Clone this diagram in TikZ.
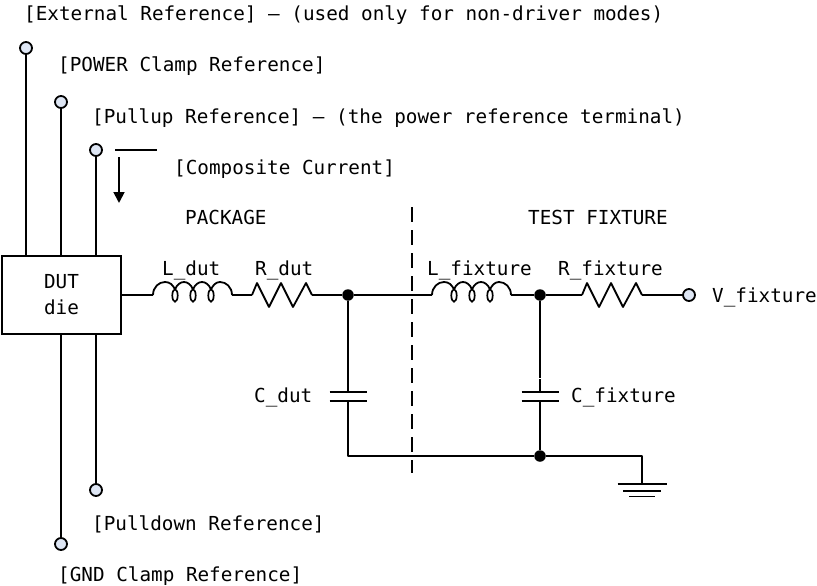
\documentclass[tikz,border=0pt]{standalone}
\usepackage{fontspec}
\setmonofont{DejaVu Sans Mono}
\usetikzlibrary{arrows.meta}
\definecolor{termfill}{HTML}{DEE6F4}
\tikzset{
  x=1pt,y=-1pt,
  wire/.style={line width=1.8pt,line join=round},
  lbl/.style={anchor=base west,inner sep=0pt,font=\fontsize{19.3}{26}\ttfamily},
  term/.style={circle,draw,line width=1.8pt,fill=termfill,minimum size=12pt,inner sep=0pt},
  dotj/.style={circle,fill=black,minimum size=11.5pt,inner sep=0pt},
  coilsym/.pic={
    \coordinate (-a) at (0,0);
    \coordinate (-b) at (79,0);
    \draw[wire] (0,0) .. controls (0,-8) and (6,-13) .. (12,-13) .. controls (17,-13) and (20,-10) .. (22,-5.5);
    \draw[wire] (22,-5.5) .. controls (26,-15.5) and (36,-15.5) .. (40,-5.5);
    \draw[wire] (40,-5.5) .. controls (44,-15.5) and (54,-15.5) .. (58,-5.5);
    \draw[wire] (58,-5.5) .. controls (60,-10) and (63,-13) .. (67,-13) .. controls (73,-13) and (79,-8) .. (79,0);
    \foreach \cx in {22,40,58} {\draw[line width=1.7pt] (\cx,0.5) ellipse [x radius=2.7pt,y radius=6.2pt];}
  },
  ressym/.pic={
    \coordinate (-a) at (0,0);
    \coordinate (-b) at (60,0);
    \draw[wire] (0,0) -- (5,-12) -- (17,12) -- (29,-12) -- (41,12) -- (54,-12) -- (60,0);
  },
  capsym/.pic={
    \coordinate (-a) at (0,-4.5);
    \coordinate (-b) at (0,4.5);
    \draw[wire] (-18.5,-4.5) -- (18.5,-4.5);
    \draw[wire] (-18.5,4.5) -- (18.5,4.5);
  },
  gndsym/.pic={
    \coordinate (-a) at (0,0);
    \draw[wire] (-24.5,0) -- (24.5,0);
    \draw[wire] (-19,7) -- (19,7);
    \draw[wire] (-13,12.5) -- (13,12.5);
  }
}
\begin{document}
\begin{tikzpicture}
\useasboundingbox (0,0) rectangle (817,586);
% die
\node[draw,line width=1.8pt,minimum width=119pt,minimum height=78pt,inner sep=0pt,font=\fontsize{19.3}{26}\ttfamily,align=center] (die) at (61.5,295) {DUT\\die};
% terminals
\node[term] (t1) at (26,48) {};
\node[term] (t2) at (61,102) {};
\node[term] (t3) at (96,150) {};
\node[term] (t4) at (96,490) {};
\node[term] (t5) at (61,544) {};
\node[term] (t6) at (689,295) {};
\draw[wire] (t1) -- (t1 |- die.north);
\draw[wire] (t2) -- (t2 |- die.north);
\draw[wire] (t3) -- (t3 |- die.north);
\draw[wire] (t4) -- (t4 |- die.south);
\draw[wire] (t5) -- (t5 |- die.south);
% current marker
\coordinate (ia) at (115,150);
\coordinate (ib) at (157,150);
\coordinate (ic) at (119,157);
\coordinate (id) at (119,203);
\draw[wire] (ia) -- (ib);
\draw[wire,-{Triangle[length=11pt,width=11pt]}] (ic) -- (id);
% components
\pic (Ld) at (153,295) {coilsym};
\pic (Rd) at (252,295) {ressym};
\pic (Lf) at (432,295) {coilsym};
\pic (Rf) at (582,295) {ressym};
\pic (Cd) at (348,396.5) {capsym};
\pic (Cf) at (540,396.5) {capsym};
\pic (Gn) at (642,484) {gndsym};
\node[dotj] (j1) at (348,295) {};
\node[dotj] (j2) at (540,295) {};
\node[dotj] (j3) at (540,456) {};
\coordinate (bl) at (348,456);
\coordinate (br) at (642,456);
\coordinate (ga) at (540,377.6);
\coordinate (gb) at (540,379.2);
\draw[wire] (die.east |- Ld-a) -- (Ld-a);
\draw[wire] (Ld-b) -- (Rd-a);
\draw[wire] (Rd-b) -- (j1);
\draw[wire] (j1) -- (Lf-a);
\draw[wire] (Lf-b) -- (j2);
\draw[wire] (j2) -- (Rf-a);
\draw[wire] (Rf-b) -- (t6);
\draw[wire] (j1) -- (Cd-a);
\draw[wire] (j2) -- (ga);
\draw[wire] (gb) -- (Cf-a);
\draw[wire] (Cd-b) -- (bl) -- (j3);
\draw[wire] (Cf-b) -- (j3);
\draw[wire] (j3) -- (br) -- (Gn-a);
% divider
\coordinate (da) at (412,207);
\coordinate (db) at (412,473);
\draw[line width=1.8pt,dash pattern=on 14.5pt off 8.5pt] (da) -- (db);
% labels
\node[lbl] (l1) at (24,20.5) {[External Reference] – (used only for non-driver modes)};
\node[lbl] (l2) at (58,72) {[POWER Clamp Reference]};
\node[lbl] (l3) at (92,123) {[Pullup Reference] – (the power reference terminal)};
\node[lbl] (l4) at (174,174) {[Composite Current]};
\node[lbl] (l5) at (185,224.5) {PACKAGE};
\node[lbl] (l6) at (528,224.5) {TEST FIXTURE};
\node[lbl] (l7) at (162,275) {L\_dut};
\node[lbl] (l8) at (255,275) {R\_dut};
\node[lbl] (l9) at (427,275) {L\_fixture};
\node[lbl] (l10) at (558,275) {R\_fixture};
\node[lbl] (l11) at (712,302) {V\_fixture};
\node[lbl] (l12) at (254,402.5) {C\_dut};
\node[lbl] (l13) at (571,402.5) {C\_fixture};
\node[lbl] (l14) at (92,530.5) {[Pulldown Reference]};
\node[lbl] (l15) at (58,581) {[GND Clamp Reference]};
\end{tikzpicture}
\end{document}
